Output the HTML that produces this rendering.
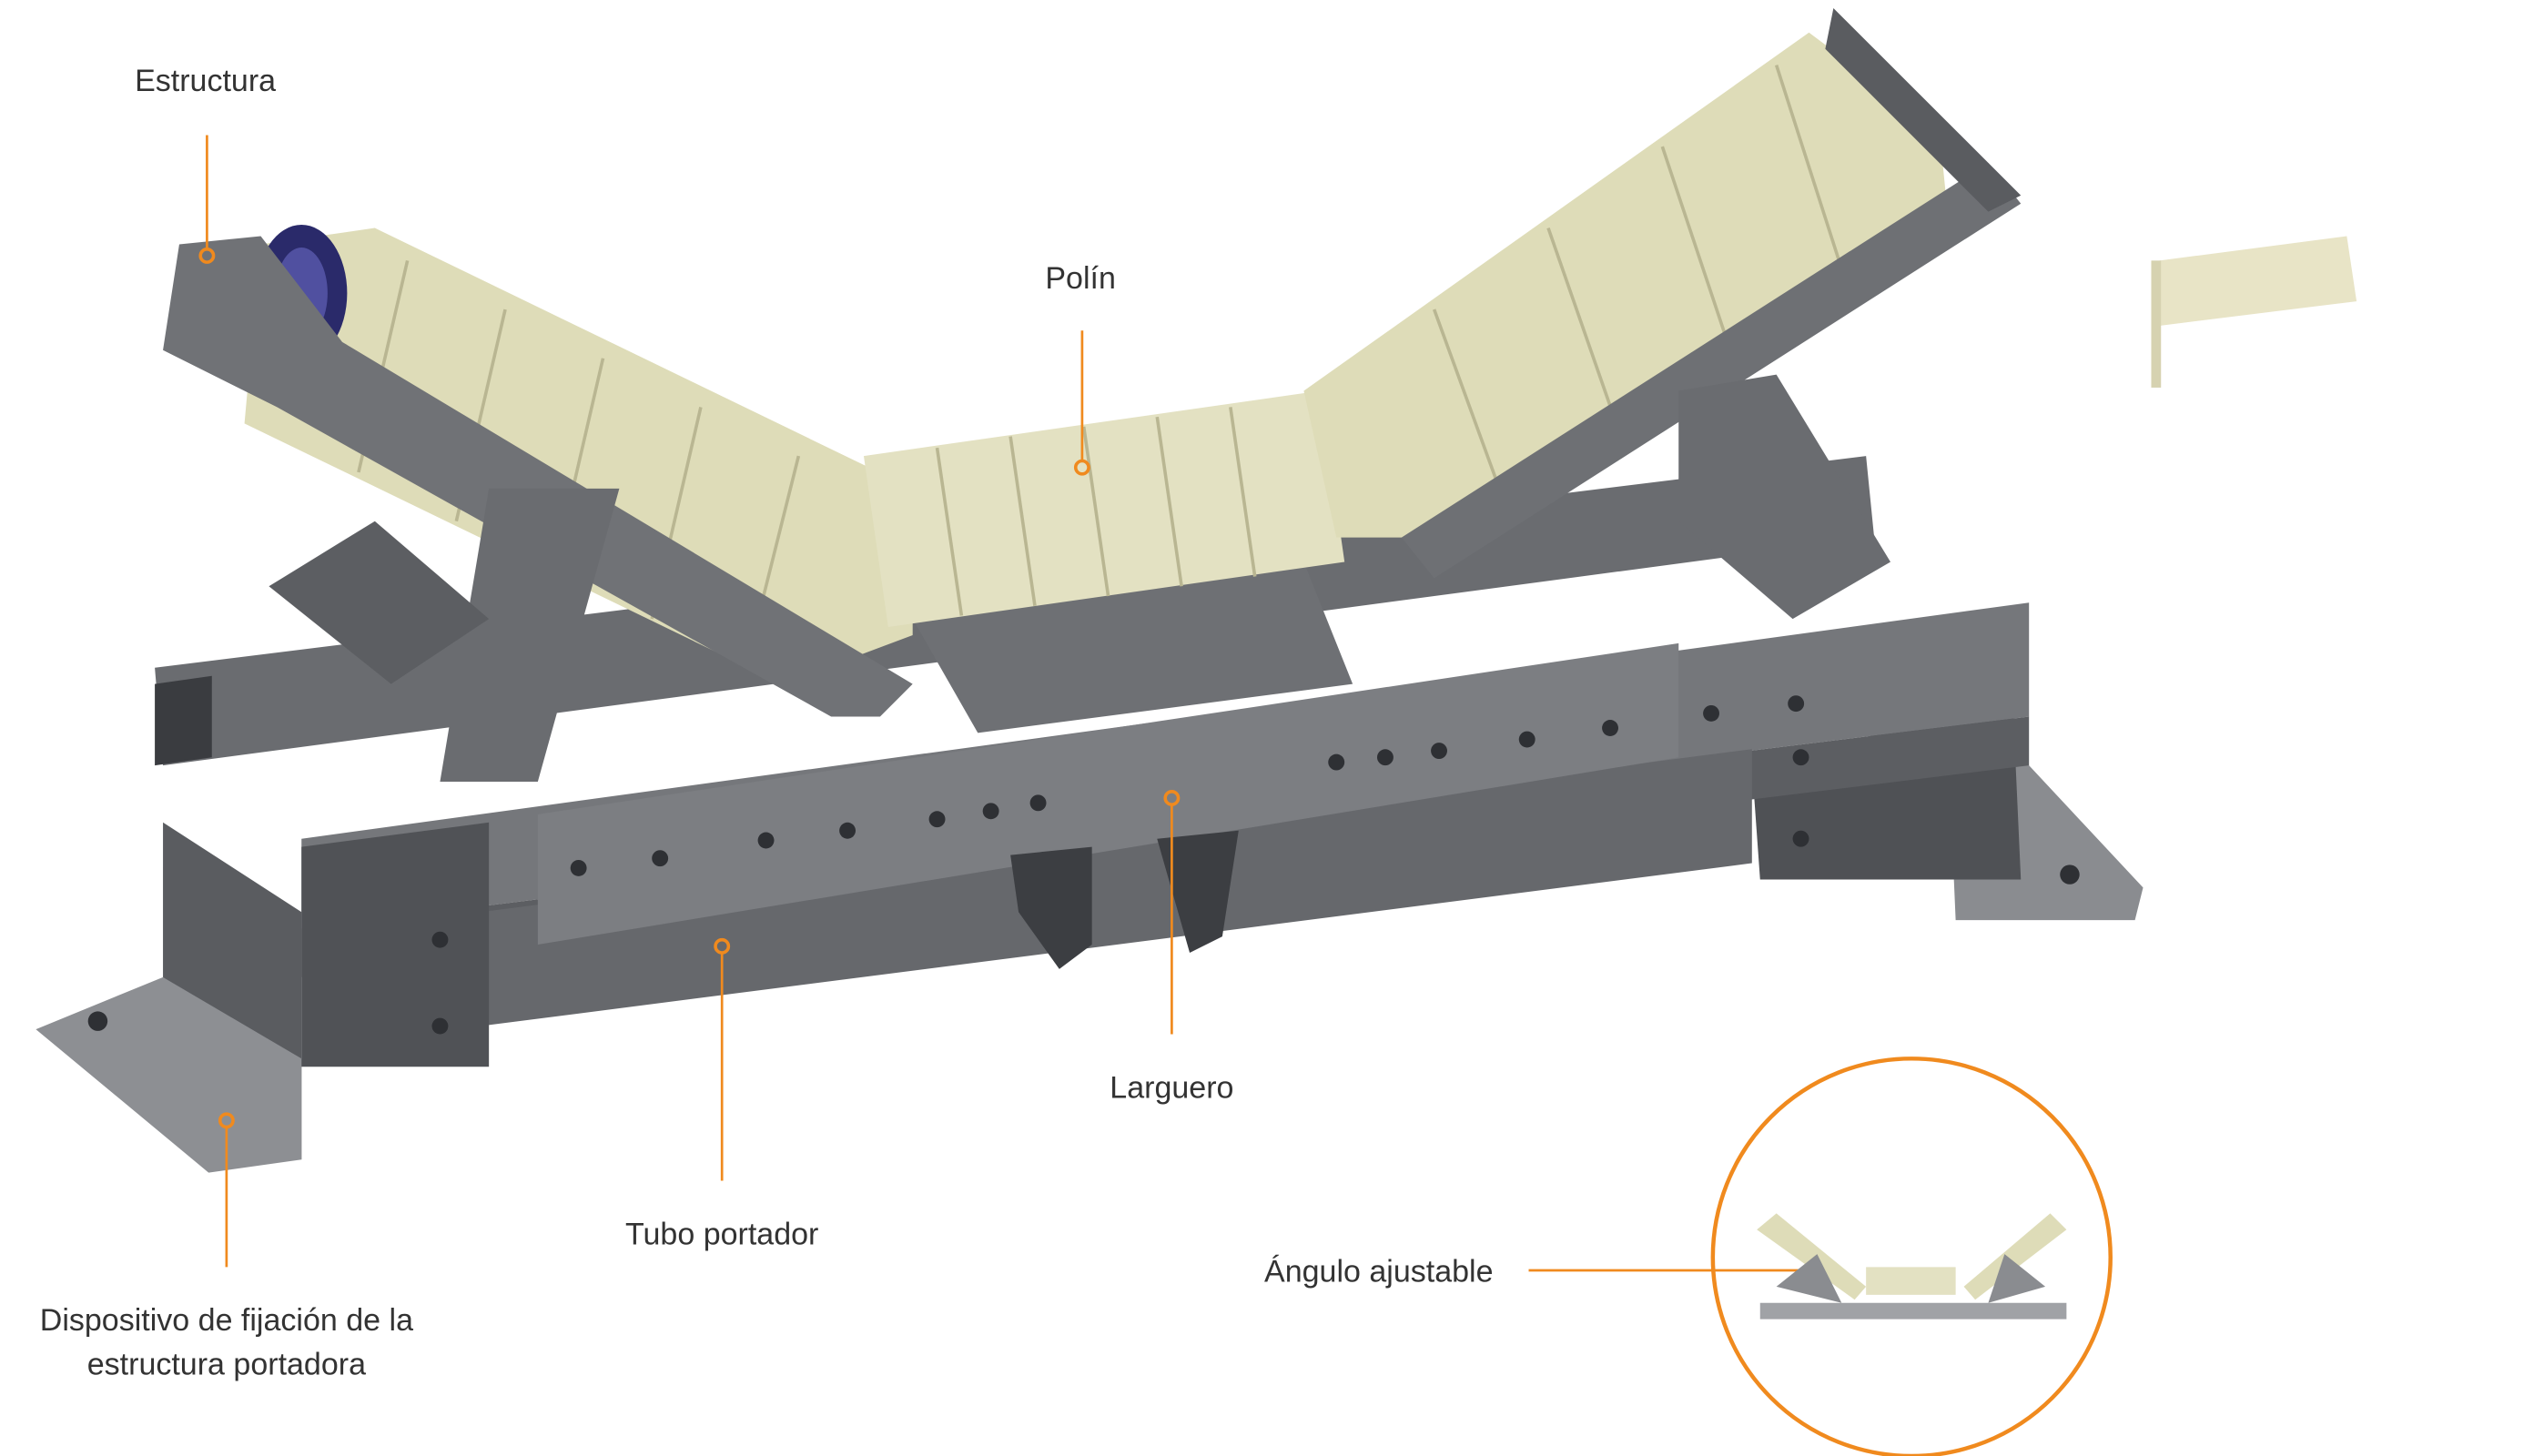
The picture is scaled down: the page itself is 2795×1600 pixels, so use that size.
<!DOCTYPE html>
<html><head><meta charset="utf-8"><style>
html,body{margin:0;padding:0;background:#fff;}
svg{display:block}
text{font-family:"Liberation Sans",sans-serif;fill:#333;font-size:19px}
</style></head><body>
<svg width="2795" height="1600" viewBox="0 0 1561 894" preserveAspectRatio="none" xmlns="http://www.w3.org/2000/svg">
<rect width="1561" height="894" fill="#fff"/>
<!-- right base plate -->
<polygon points="1225,440 1245,470 1315,545 1310,565 1200,565 1195,450" fill="#8a8c90"/>
<polygon points="1075,470 1235,430 1240,540 1080,540" fill="#4f5155"/>
<!-- back tube -->
<polygon points="95,410 1145,280 1150,330 100,470" fill="#6a6c70"/>
<polygon points="95,420 130,415 130,465 95,470" fill="#3a3c40"/>
<!-- left vertical plate and base -->
<polygon points="100,505 185,560 185,712 100,650" fill="#5a5c60"/>
<polygon points="22,632 100,600 185,650 185,712 128,720" fill="#8d8f93"/>
<!-- lower beam (tubo portador) -->
<polygon points="185,515 1245,370 1245,440 185,570" fill="#75777b"/>
<polygon points="185,570 1245,440 1245,470 185,600" fill="#5c5e62"/>
<polygon points="295,560 1075,460 1075,530 295,630" fill="#66686c"/>
<polygon points="185,520 300,505 300,655 185,655" fill="#505256"/>
<!-- larguero box -->
<polygon points="330,500 1030,395 1030,465 330,580" fill="#7c7e82"/>
<polygon points="560,380 800,345 830,420 600,450" fill="#6e7074"/>
<!-- hangers -->
<polygon points="620,525 670,520 670,580 650,595 625,560" fill="#3c3e42"/>
<polygon points="710,515 760,510 750,575 730,585" fill="#3c3e42"/>
<!-- left roller -->
<polygon points="160,150 230,140 560,300 560,390 480,420 150,260" fill="#dedcb8"/>
<ellipse cx="185" cy="180" rx="28" ry="42" fill="#2a2a6a"/>
<ellipse cx="185" cy="180" rx="16" ry="28" fill="#5050a0"/>
<!-- center roller -->
<polygon points="530,280 810,240 825,345 545,385" fill="#e3e1c2"/>
<!-- right roller -->
<polygon points="800,240 1110,20 1190,80 1195,130 870,330 820,330" fill="#dedcb8"/>
<!-- roller bands -->
<g stroke="#b9b692" stroke-width="2">
<line x1="575" y1="275" x2="590" y2="378"/><line x1="620" y1="268" x2="635" y2="372"/>
<line x1="665" y1="262" x2="680" y2="366"/><line x1="710" y1="256" x2="725" y2="360"/>
<line x1="755" y1="250" x2="770" y2="354"/>
<line x1="250" y1="160" x2="220" y2="290"/><line x1="310" y1="190" x2="280" y2="320"/>
<line x1="370" y1="220" x2="340" y2="350"/><line x1="430" y1="250" x2="400" y2="380"/>
<line x1="490" y1="280" x2="460" y2="400"/>
<line x1="880" y1="190" x2="920" y2="300"/><line x1="950" y1="140" x2="990" y2="255"/>
<line x1="1020" y1="90" x2="1060" y2="210"/><line x1="1090" y1="40" x2="1130" y2="165"/>
</g>
<!-- left frame -->
<polygon points="100,215 110,150 160,145 210,210 560,420 540,440 510,440 170,250" fill="#707276"/>
<polygon points="300,300 380,300 330,480 270,480" fill="#6a6c70"/>
<polygon points="165,360 230,320 300,380 240,420" fill="#5c5e62"/>
<!-- right frame -->
<polygon points="860,330 1220,100 1240,125 880,355" fill="#6e7074"/>
<polygon points="1125,5 1240,120 1220,130 1120,30" fill="#5a5c60"/>
<polygon points="1030,240 1090,230 1160,345 1100,380 1030,320" fill="#6a6c70"/>
<!-- bolts -->
<g fill="#2e3034">
<circle cx="355" cy="533" r="5"/><circle cx="405" cy="527" r="5"/><circle cx="470" cy="516" r="5"/><circle cx="520" cy="510" r="5"/>
<circle cx="575" cy="503" r="5"/><circle cx="608" cy="498" r="5"/><circle cx="637" cy="493" r="5"/>
<circle cx="820" cy="468" r="5"/><circle cx="850" cy="465" r="5"/><circle cx="883" cy="461" r="5"/>
<circle cx="937" cy="454" r="5"/><circle cx="988" cy="447" r="5"/><circle cx="1050" cy="438" r="5"/><circle cx="1102" cy="432" r="5"/>
<circle cx="270" cy="577" r="5"/><circle cx="270" cy="630" r="5"/><circle cx="1105" cy="465" r="5"/><circle cx="1105" cy="515" r="5"/>
<circle cx="60" cy="627" r="6"/><circle cx="1270" cy="537" r="6"/>
</g>
<!-- cream cylinder -->
<polygon points="1325,160 1440,145 1446,185 1325,200" fill="#e8e4c6"/>
<rect x="1320" y="160" width="6" height="78" fill="#d6d2b0"/>
<!-- leaders -->
<g stroke="#f08a1e" stroke-width="1.5" fill="none">
<line x1="127" y1="83" x2="127" y2="153"/>
<line x1="664" y1="203" x2="664" y2="283"/>
<line x1="719" y1="494" x2="719" y2="635"/>
<line x1="443" y1="585" x2="443" y2="725"/>
<line x1="139" y1="692" x2="139" y2="778"/>
<line x1="938" y1="780" x2="1120" y2="780"/>
</g>
<g stroke="#f08a1e" stroke-width="2" fill="none">
<circle cx="127" cy="157" r="4"/><circle cx="664" cy="287" r="4"/><circle cx="719" cy="490" r="4"/>
<circle cx="443" cy="581" r="4"/><circle cx="139" cy="688" r="4"/><circle cx="1120" cy="780" r="4"/>
<circle cx="1173" cy="772" r="122" stroke-width="2.5"/>
</g>
<!-- small icon -->
<polygon points="1080,800 1268,800 1268,810 1080,810" fill="#a0a2a6"/>
<polygon points="1078,755 1090,745 1145,790 1138,798" fill="#dedcb8"/>
<polygon points="1145,778 1200,778 1200,795 1145,795" fill="#e3e1c2"/>
<polygon points="1205,790 1258,745 1268,755 1212,798" fill="#dedcb8"/>
<polygon points="1090,790 1115,770 1130,800" fill="#8a8c90"/>
<polygon points="1230,770 1255,790 1220,800" fill="#8a8c90"/>
<!-- labels -->
<text x="126" y="56" text-anchor="middle">Estructura</text>
<text x="663" y="177" text-anchor="middle">Polín</text>
<text x="719" y="674" text-anchor="middle">Larguero</text>
<text x="443" y="764" text-anchor="middle">Tubo portador</text>
<text x="139" y="817" text-anchor="middle">Dispositivo de fijación de la</text>
<text x="139" y="844" text-anchor="middle">estructura portadora</text>
<text x="846" y="787" text-anchor="middle">Ángulo ajustable</text>
</svg>
</body></html>
